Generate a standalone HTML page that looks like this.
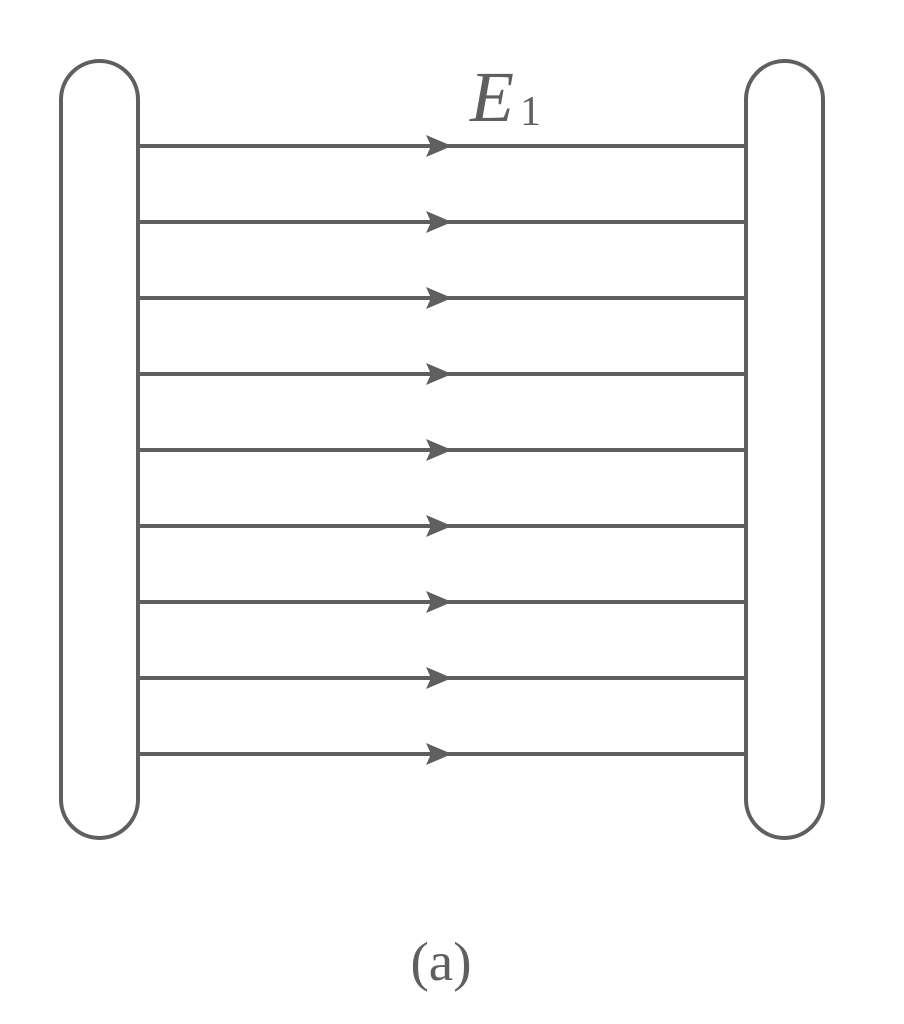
<!DOCTYPE html>
<html><head><style>body{margin:0;background:#fff}svg{display:block}</style></head><body>
<svg width="904" height="1024" viewBox="0 0 904 1024" xmlns="http://www.w3.org/2000/svg">
<g fill="none" stroke="#5f5f5f" stroke-width="4">
<rect x="61" y="61" width="77" height="777" rx="38.5"/>
<rect x="746" y="61" width="77" height="777" rx="38.5"/>
<path d="M138 146H746M138 222H746M138 298H746M138 374H746M138 450H746M138 526H746M138 602H746M138 678H746M138 754H746"/>
</g>
<g fill="#5f5f5f">
<path d="M426 135L452 146L426 157L431 146Z"/>
<path d="M426 211L452 222L426 233L431 222Z"/>
<path d="M426 287L452 298L426 309L431 298Z"/>
<path d="M426 363L452 374L426 385L431 374Z"/>
<path d="M426 439L452 450L426 461L431 450Z"/>
<path d="M426 515L452 526L426 537L431 526Z"/>
<path d="M426 591L452 602L426 613L431 602Z"/>
<path d="M426 667L452 678L426 689L431 678Z"/>
<path d="M426 743L452 754L426 765L431 754Z"/>
<text x="470" y="121" font-family="Liberation Serif, serif" font-style="italic" font-size="72">E</text>
<text x="520" y="125" font-family="Liberation Serif, serif" font-size="42">1</text>
<text x="441" y="980" text-anchor="middle" font-family="Liberation Serif, serif" font-size="55">(a)</text>
</g>
</svg>
</body></html>
